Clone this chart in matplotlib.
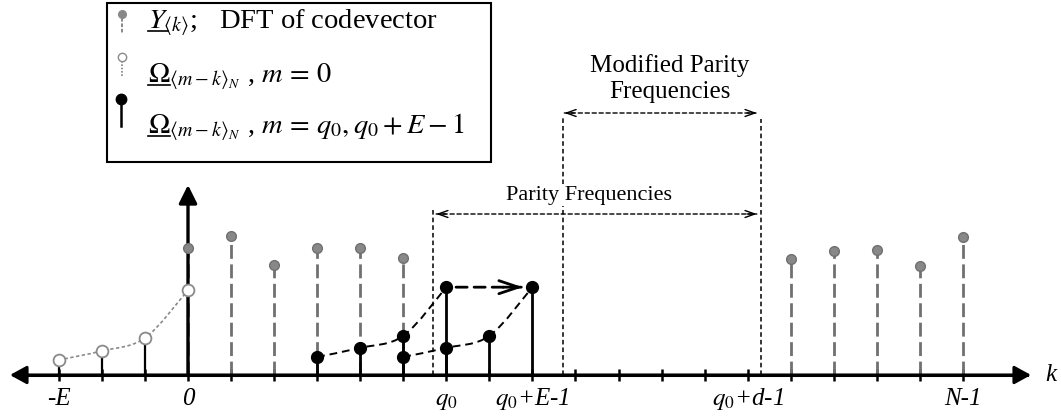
import matplotlib
matplotlib.use("Agg")
import numpy as np
import matplotlib.pyplot as plt
from matplotlib.patches import FancyArrowPatch, Rectangle, PathPatch, ArrowStyle
from matplotlib.path import Path
from matplotlib.lines import Line2D

plt.rcParams["font.family"] = ["Liberation Serif", "DejaVu Serif"]
plt.rcParams["mathtext.fontset"] = "stix"

# Y_<k> : DFT of codevector
y_k = [0, 1, 2, 3, 4, 5, 14, 15, 16, 17, 18]
y_val = [2.95, 3.23, 2.56, 2.95, 2.95, 2.72, 2.69, 2.88, 2.90, 2.53, 3.21]
# Omega, m = 0
om0_k = [-3, -2, -1, 0]
om0_val = [0.35, 0.56, 0.86, 1.97]
# Omega, m = q0
omq_k = [3, 4, 5, 6]
omq_val = [0.42, 0.63, 0.91, 2.04]
# Omega, m = q0+E-1
omqe_k = [5, 6, 7, 8]
omqe_val = [0.42, 0.63, 0.91, 2.04]

tick_k = list(range(-3, 19))
label_k = [-3, 0, 6, 8, 13, 18]
label_txt = ["-E", "0", r"$\mathit{q_0}$", r"$\mathit{q_0}$+E-1",
             r"$\mathit{q_0}$+d-1", "N-1"]

parity_lo, modified_lo, parity_hi = 5.7, 8.71, 13.31

W, H = 1061, 416
U = 43.05            # pixels per unit
X0, Y0 = 188, 375    # pixel position of origin
LFS = 20.5

fig = plt.figure(figsize=(W / 100, H / 100), dpi=100)
ax = fig.add_axes([0, 0, 1, 1])
ax.set_xlim(-X0 / U, (W - X0) / U)
ax.set_ylim(-(H - Y0) / U, Y0 / U)


def dx(px):
    return (px - X0) / U


def dy(py):
    return (Y0 - py) / U


def af(px, py):
    return px / W, 1 - py / H


for s in ["top", "right", "left"]:
    ax.spines[s].set_visible(False)
ax.spines["bottom"].set_position(("data", 0))
ax.spines["bottom"].set_bounds(dx(14), dx(1027))
ax.spines["bottom"].set_linewidth(2.2)
ax.set_yticks([])
ax.set_xticks(tick_k, [""] * len(tick_k))
ax.tick_params(axis="x", direction="inout", length=9, width=1.8)

# axis arrows
ax.add_patch(FancyArrowPatch((dx(10), 0), (dx(1031), 0),
                             arrowstyle=ArrowStyle("<|-|>", head_length=10, head_width=5.5),
                             mutation_scale=1, lw=2.2, color="k", shrinkA=0, shrinkB=0, zorder=3))
ax.add_patch(FancyArrowPatch((0, 0), (0, dy(185)),
                             arrowstyle=ArrowStyle("-|>", head_length=11, head_width=5.5),
                             mutation_scale=1, lw=2.4, color="k", shrinkA=0, shrinkB=0, zorder=3))
ax.text(dx(1045), dy(381), "k", fontsize=18, fontstyle="italic", ha="left", va="baseline")

for k, t in zip(label_k, label_txt):
    ax.text(k, dy(405), t, fontsize=18, fontstyle="italic", ha="center", va="baseline")


def smooth(xs, ys):
    pts = np.column_stack([xs, ys]).astype(float)
    ext = np.vstack([pts[0], pts, pts[-1]])
    verts = [tuple(pts[0])]
    codes = [Path.MOVETO]
    for i in range(len(pts) - 1):
        p0, p1, p2, p3 = ext[i], ext[i + 1], ext[i + 2], ext[i + 3]
        verts += [tuple(p1 + (p2 - p0) / 6), tuple(p2 - (p3 - p1) / 6), tuple(p2)]
        codes += [Path.CURVE4] * 3
    return Path(verts, codes)


# gray DFT stems
ax.vlines(y_k, 0, y_val, colors="#707070", linestyles=(0, (5, 2)), lw=2, zorder=2)

# parity boundaries
ax.vlines([parity_lo], 0, dy(208), colors="k", linestyles=(0, (3, 2)), lw=1.1, zorder=1)
ax.vlines([modified_lo, parity_hi], 0, [dy(117), dy(119)], colors="k",
          linestyles=(0, (3, 2)), lw=1.1, zorder=1)


def dash_arrow(p0, p1, lw, dash, hl, hw, shA, shB, style, z=3):
    ax.add_patch(FancyArrowPatch(p0, p1, arrowstyle="-", mutation_scale=1, lw=lw, color="k",
                                 linestyle=(0, dash), shrinkA=shA, shrinkB=shB, zorder=z))
    d = ax.transData.transform(p1) - ax.transData.transform(p0)
    length = np.hypot(*d) * 72 / fig.dpi
    if ">" in style:
        ax.add_patch(FancyArrowPatch(p0, p1, arrowstyle=ArrowStyle("->", head_length=hl, head_width=hw),
                                     mutation_scale=1, lw=lw, color="k",
                                     shrinkA=length - shB - hl, shrinkB=shB, zorder=z))
    if "<" in style:
        ax.add_patch(FancyArrowPatch(p0, p1, arrowstyle=ArrowStyle("<-", head_length=hl, head_width=hw),
                                     mutation_scale=1, lw=lw, color="k",
                                     shrinkA=shA, shrinkB=length - shA - hl, zorder=z))


dash_arrow((parity_lo, dy(214)), (parity_hi, dy(214)), 1.0, (3, 2), 7, 2.5, 2, 3, "<>")
dash_arrow((modified_lo, dy(113)), (parity_hi, dy(113)), 1.0, (3, 2), 7, 2.5, 1, 3, "<>")

ax.text(dx(589), dy(200), "Parity Frequencies", fontsize=16, ha="center", va="baseline",
        bbox=dict(fc="white", ec="none", pad=1), zorder=2)
ax.text(dx(670), dy(72), "Modified Parity", fontsize=18, ha="center", va="baseline")
ax.text(dx(670), dy(98), "Frequencies", fontsize=18, ha="center", va="baseline")

# Omega m = 0
ax.vlines(om0_k, 0, om0_val, colors="k", lw=1.6, zorder=2)
ax.add_patch(PathPatch(smooth(om0_k, om0_val), fill=False, ec="#8a8a8a",
                       lw=1.2, ls=(0, (2, 1.5)), zorder=3))

# Omega m = q0 and q0+E-1
ax.vlines(omq_k, 0, omq_val, colors="k", lw=2, zorder=3)
ax.vlines(omqe_k, 0, omqe_val, colors="k", lw=2, zorder=3)
for xs, ys in [(omq_k, omq_val), (omqe_k, omqe_val)]:
    ax.add_patch(PathPatch(smooth(xs, ys), fill=False, ec="k", lw=1.4,
                           ls=(0, (4, 2.5)), zorder=3))
dash_arrow((omq_k[-1], omq_val[-1]), (omqe_k[-1], omqe_val[-1]), 2.0, (4, 2.5),
           14, 4.7, 7, 7, ">", z=4)

ax.plot(om0_k, om0_val, "o", mfc="white", mec="#8a8a8a", mew=1.3, ms=8.5, zorder=5)
ax.plot(omq_k, omq_val, "o", color="k", ms=8.5, zorder=5)
ax.plot(omqe_k, omqe_val, "o", color="k", ms=8.5, zorder=5)
ax.plot(y_k, y_val, "o", color="#888888", mec="#707070", ms=7, zorder=5)

# legend box
x, y = af(107, 162)
ax.add_patch(Rectangle((x, y), 384 / W, 159 / H, fill=False, ec="k", lw=1.5,
                       transform=ax.transAxes, zorder=6))
for (px, ptop, pbot, ls, col, lw) in [(122, 18, 34, (0, (2, 1)), "#808080", 1.3),
                                      (122, 61, 76, (0, (1, 1)), "#808080", 1.2),
                                      (121, 104, 126, "-", "k", 1.8)]:
    ax.add_line(Line2D([px / W, px / W], [1 - ptop / H, 1 - pbot / H], ls=ls, color=col,
                       lw=lw, transform=ax.transAxes, zorder=6))
ax.plot(*af(122, 14), "o", color="#888888", ms=5.5, transform=ax.transAxes, zorder=7)
ax.plot(*af(122, 57), "o", mfc="white", mec="#8a8a8a", ms=6, mew=1, transform=ax.transAxes, zorder=7)
ax.plot(*af(121, 99), "o", color="k", ms=7.5, transform=ax.transAxes, zorder=7)

rows = [(28, r"$Y$", r"$Y_{\langle k\rangle}$;   DFT of codevector"),
        (82, r"$\mathit{\Omega}$", r"$\mathit{\Omega}_{\langle m-k\rangle_N}$ , $m\,=\,0$"),
        (133, r"$\mathit{\Omega}$",
         r"$\mathit{\Omega}_{\langle m-k\rangle_N}$ , $m\,=\,q_0, q_0+E-1$")]
renderer = fig.canvas.get_renderer()
for base, nucleus, full in rows:
    ax.text(*af(148, base), full, fontsize=LFS, ha="left", va="baseline",
            transform=ax.transAxes, zorder=7)
    t = ax.text(*af(148, base), nucleus, fontsize=LFS, ha="left", va="baseline",
                transform=ax.transAxes)
    bb = t.get_window_extent(renderer)
    t.remove()
    ax.add_line(Line2D([bb.x0 / W, bb.x1 / W], [1 - (base + 3) / H] * 2, color="k", lw=1.2,
                       transform=ax.transAxes, zorder=7))

fig.savefig("out.png", dpi=100)
